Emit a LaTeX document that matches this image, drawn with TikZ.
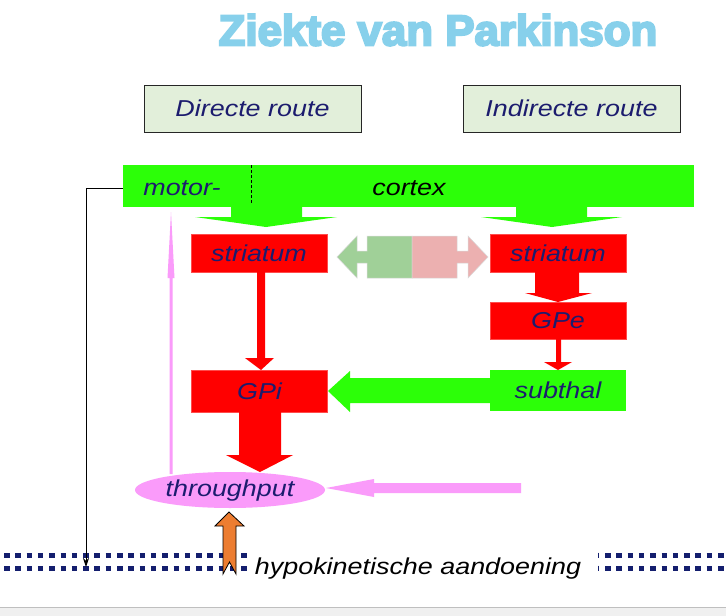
\documentclass[tikz,border=0pt]{standalone}
\usepackage{fontspec}
\setmainfont{Liberation Sans}
\newfontfamily\labfont{Liberation Sans}[FakeStretch=1.17]
\newfontfamily\titlefont{Liberation Sans}[UprightFont=* Bold, FakeBold=5, FakeStretch=1.02]
\usetikzlibrary{arrows.meta,shapes.geometric}
\definecolor{navy}{RGB}{28,28,110}
\definecolor{cgreen}{RGB}{44,255,8}
\definecolor{cred}{RGB}{255,0,0}
\definecolor{cpink}{RGB}{250,155,250}
\definecolor{boxgreen}{RGB}{226,239,218}
\definecolor{dgreen}{RGB}{160,208,152}
\definecolor{dpink}{RGB}{236,176,176}
\definecolor{corange}{RGB}{237,125,49}
\definecolor{titleblue}{RGB}{135,208,235}
\definecolor{dotnavy}{RGB}{20,30,110}
\tikzset{
  lab/.style={font=\labfont\itshape\fontsize{23}{26}\selectfont, text=navy, inner sep=0pt},
  routebox/.style={draw=black!85, line width=0.8pt, fill=boxgreen, minimum width=217pt, minimum height=47pt, lab},
  redbox/.style={fill=cred, draw=cred!70, line width=0.4pt, minimum width=136pt, lab},
  greenbox/.style={fill=cgreen, minimum width=136pt, lab},
  dots/.style={dotnavy, line width=5pt, dash pattern=on 5.5pt off 5.8pt},
}
\begin{document}
\begin{tikzpicture}[x=1pt,y=-1pt]
\useasboundingbox (0,0) rectangle (726,616);
\fill[white] (0,0) rectangle (726,616);
% bottom band
\fill[black!6] (0,607) rectangle (726,616);
\draw[black!25, line width=1pt] (0,607) -- (726,607);

% title
\node[text=titleblue, font=\titlefont\fontsize{43}{45}\selectfont, inner sep=0pt] (title) at (438,30) {Ziekte van Parkinson};

% route boxes
\node[routebox] (direct) at (252.5,108.5) {Directe route};
\node[routebox] (indirect) at (571.5,108.5) {Indirecte route};

% cortex bar
\node[fill=cgreen, minimum width=571pt, minimum height=42pt, inner sep=0pt] (cortex) at (408.5,186) {};
\node[lab] (motor) at (182,188) {motor-};
\node[lab, text=black] (ctx) at (409,188) {cortex};
\draw[black, line width=0.7pt, dash pattern=on 3pt off 2pt] (251,165) -- (251,203);

% green arrows cortex -> striata
\fill[cgreen] (231,205) -- (302,205) -- (302,217) -- (337,217) -- (266,227) -- (195,217) -- (231,217) -- cycle;
\fill[cgreen] (516,205) -- (587,205) -- (587,217) -- (622,217) -- (552,227) -- (481,217) -- (516,217) -- cycle;

% striatum boxes
\node[redbox, minimum height=38pt] (strL) at (259,253) {striatum};
\node[redbox, minimum height=38pt] (strR) at (558,253) {striatum};
\node[redbox, minimum height=37pt] (gpe) at (558,320.5) {GPe};
\node[redbox, minimum height=42pt] (gpi) at (259.5,391) {GPi};
\node[greenbox, minimum height=41pt] (subthal) at (558,390.5) {subthal};

% double arrow between striata
\filldraw[fill=dgreen, draw=black!15, line width=0.5pt] (337,257) -- (357,236) -- (357,251) -- (367,251) -- (367,236) -- (412,236) -- (412,278) -- (367,278) -- (367,263) -- (357,263) -- (357,278) -- cycle;
\filldraw[fill=dpink, draw=black!15, line width=0.5pt] (488,257) -- (468,236) -- (468,251) -- (457,251) -- (457,236) -- (412,236) -- (412,278) -- (457,278) -- (457,263) -- (468,263) -- (468,278) -- cycle;

% striatum L -> GPi (thin red)
\fill[cred] (257,271) -- (265,271) -- (265,358) -- (274,358) -- (261,370) -- (245,358) -- (257,358) -- cycle;

% GPi -> throughput (fat red)
\fill[cred] (239,411) -- (281,411) -- (281,455) -- (293,455) -- (260,472) -- (226,455) -- (239,455) -- cycle;

% striatum R -> GPe
\fill[cred] (535,271) -- (579,271) -- (579,293) -- (592,293) -- (558,302) -- (525,293) -- (535,293) -- cycle;

% GPe -> subthal
\fill[cred] (556,338) -- (561,338) -- (561,362) -- (572,362) -- (558,370) -- (544,362) -- (556,362) -- cycle;

% subthal -> GPi (green)
\fill[cgreen] (491,378) -- (350,378) -- (350,371) -- (328,391) -- (350,412) -- (350,403) -- (491,403) -- cycle;

% throughput ellipse
\node[ellipse, fill=cpink, minimum width=190pt, minimum height=36pt, inner sep=0pt] (thr) at (230,490) {};
\node[lab] (thrtxt) at (230,491) {throughput};

% pink arrow up from throughput
\fill[cpink] (169.5,474) -- (172.5,474) -- (172.5,278) -- (174.5,278) -- (171,212) -- (167.5,278) -- (169.5,278) -- cycle;

% pink arrow from right into throughput
\fill[cpink] (521,483) -- (374,483) -- (374,479) -- (326,488) -- (374,497) -- (374,493) -- (521,493) -- cycle;

% dotted double line
\draw[dots] (4,555) -- (248,555);
\draw[dots] (4,568) -- (248,568);
\draw[dots] (605,555) -- (726,555);
\draw[dots] (605,568) -- (726,568);
\draw[dotnavy, line width=1pt] (598,552.5) -- (598,557.5) (598,565.5) -- (598,570.5);

% hypokinetic text
\node[lab, text=black] (hypo) at (418,569) {hypokinetische aandoening};

% black feedback line
\coordinate (hk) at (86,567);
\draw[black, line width=0.8pt, -{Stealth[length=9pt,width=6pt]}] ([yshift=-2pt]cortex.west) -| (hk);

% orange arrow
\filldraw[fill=corange, draw=black, line width=0.8pt] (229,512) -- (244,526) -- (236,526) -- (236,574) -- (229.5,562) -- (223,574) -- (223,526) -- (215,526) -- cycle;
\end{tikzpicture}
\end{document}
